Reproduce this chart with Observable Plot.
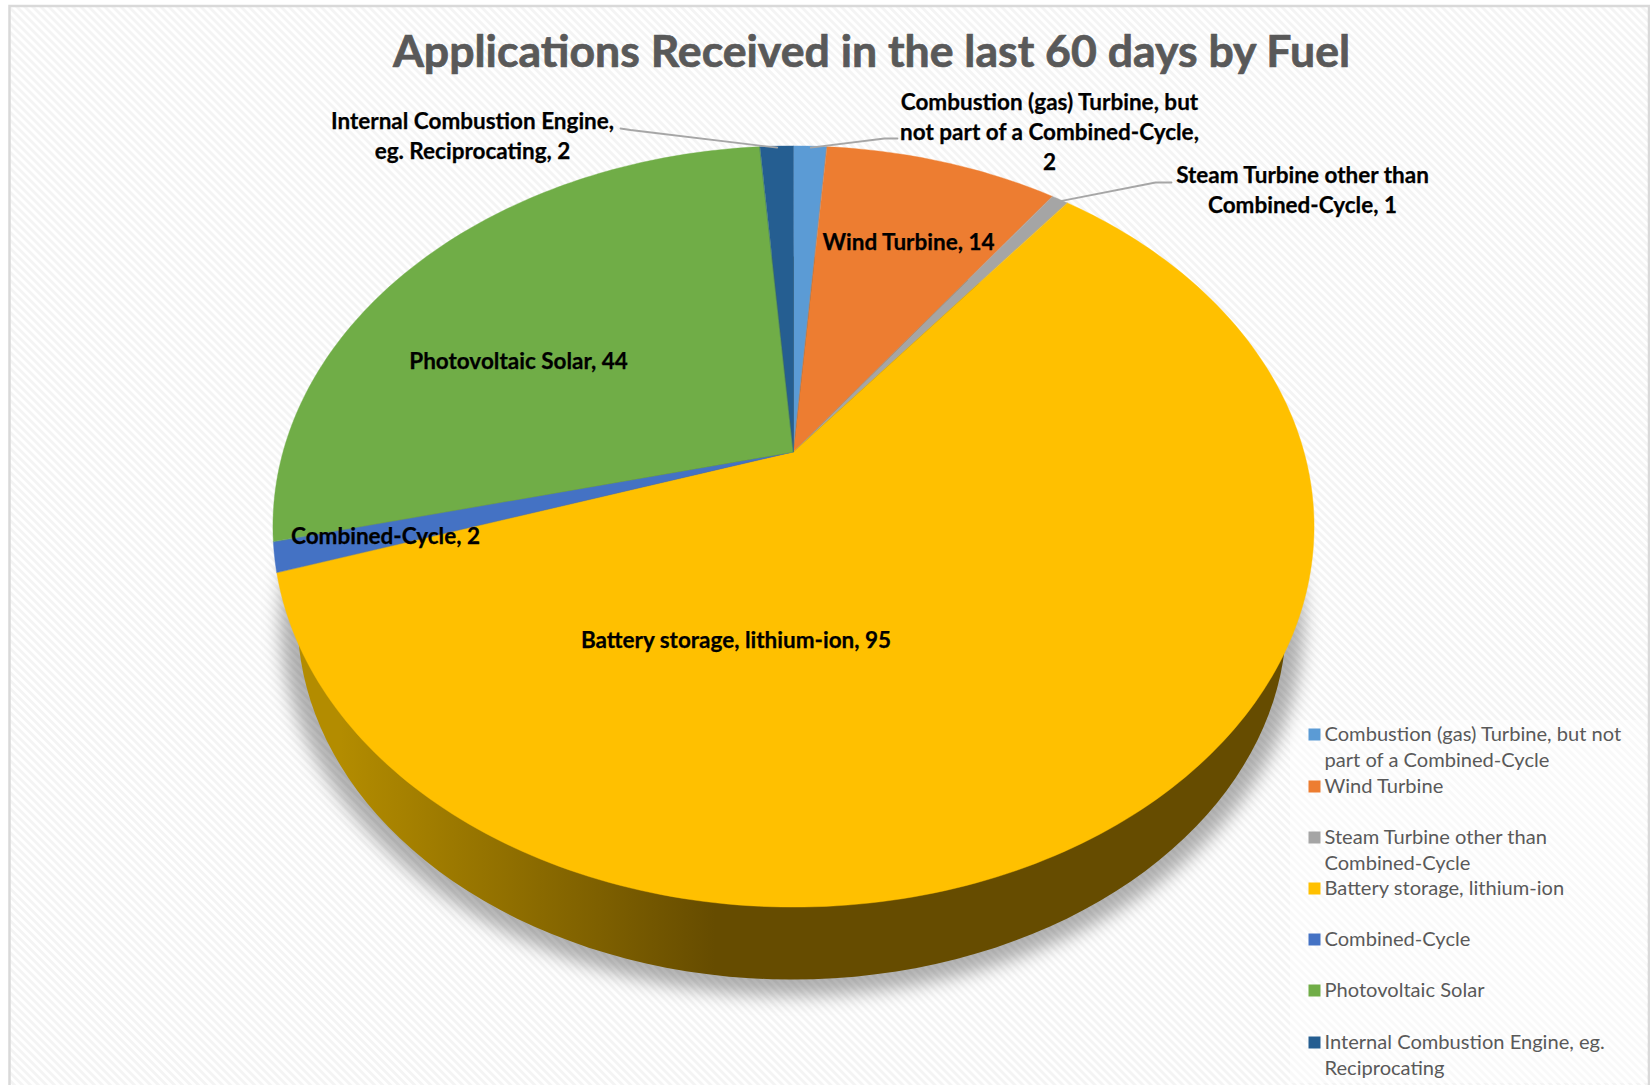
<!DOCTYPE html>
<html><head><meta charset="utf-8">
<script src="https://cdn.jsdelivr.net/npm/d3@7"></script>
<script src="https://cdn.jsdelivr.net/npm/@observablehq/plot@0.6"></script>
<style>html,body{margin:0;padding:0;background:#fff}svg{display:block}</style>
</head><body><div id="chart"></div>
<script>
const chartTitle = "Applications Received in the last 60 days by Fuel";
const fuels = ["Combustion (gas) Turbine, but not part of a Combined-Cycle","Wind Turbine","Steam Turbine other than Combined-Cycle","Battery storage, lithium-ion","Combined-Cycle","Photovoltaic Solar","Internal Combustion Engine, eg. Reciprocating"];
const counts = [2,14,1,95,2,44,2];
const palette = ["#5b9bd5","#ed7d31","#a5a5a5","#ffc000","#4472c4","#70ad47","#255e91"];
const legendLines = ["Combustion (gas) Turbine, but not\npart of a Combined-Cycle","Wind Turbine","Steam Turbine other than\nCombined-Cycle","Battery storage, lithium-ion","Combined-Cycle","Photovoltaic Solar","Internal Combustion Engine, eg.\nReciprocating"];
const labelLines = ["Combustion (gas) Turbine, but\nnot part of a Combined-Cycle,\n2","Wind Turbine, 14","Steam Turbine other than\nCombined-Cycle, 1","Battery storage, lithium-ion, 95","Combined-Cycle, 2","Photovoltaic Solar, 44","Internal Combustion Engine,\neg. Reciprocating, 2"];

// layout
const W=1650,H=1085;
const cx=793.5,apexY=452,persp=0.1958,ax=510.5,by=366,midY=526.5;
const labelAt=[[1049,88.5],[908,228.5],[1302,161],[735.5,626.5],[385,522],[518,347.5],[472,107.5]];
const legendY=[734,786,837,888,939,990,1042];
const leaderKnots={0:[[897,138],[884,138]],2:[[1171,182],[1155,182]],6:[[620,128],[630,129.5]]};

const rim=a=>{const u=Math.sin(a),v=Math.cos(a),d=1+persp*v;return {x:cx+ax*u/d,y:apexY-by*v/d};};
const base=a=>{const p=rim(a);return {x:cx-1.5+0.95*(p.x-cx),y:618+0.95*(p.y-midY)};};
const pie=d3.pie().sort(null)(counts);
const step=Math.PI/180;
const wedges=pie.flatMap((s,i)=>{
  const n=Math.max(2,Math.ceil((s.endAngle-s.startAngle)/step));
  return d3.range(n+1).map(k=>{const p=rim(s.startAngle+(s.endAngle-s.startAngle)*k/n);return {fuel:fuels[i],x:p.x,y:p.y};});
});
const circle=d3.range(0,361,2).map(t=>t*Math.PI/180);
const wall=circle.map(base);
const shadow=circle.map(a=>{const p=base(a);return {x:cx+1.035*(p.x-cx),y:622+1.035*(p.y-618)};});
const leaders=Object.entries(leaderKnots).flatMap(([i,k])=>{
  const s=pie[+i],e=rim((s.startAngle+s.endAngle)/2);
  return [...k,[e.x,e.y+1]].map(([x,y])=>({i,x,y}));
});
const legend=fuels.map((f,i)=>({fuel:f,text:legendLines[i],y:legendY[i]}));
const labels=fuels.map((f,i)=>({text:labelLines[i],x:labelAt[i][0],y:labelAt[i][1]}));

const defs=()=>{
  const g=d3.create("svg:defs");
  g.html(`<pattern id="hatch" width="5.66" height="5.66" patternUnits="userSpaceOnUse" patternTransform="rotate(-45)"><rect width="5.66" height="5.66" fill="#fff"/><rect width="2.83" height="5.66" fill="#f4f4f4"/></pattern>
  <linearGradient id="wallFill" gradientUnits="userSpaceOnUse" x1="340" x2="715" y1="0" y2="0"><stop offset="0" stop-color="#b38c00"/><stop offset="1" stop-color="#664c00"/></linearGradient>
  <filter id="soft" x="-10%" y="-10%" width="120%" height="120%"><feGaussianBlur stdDeviation="9"/></filter>`);
  return g.node();
};
const blurred=(index,scales,values,dims,ctx,next)=>{const g=next(index,scales,values,dims,ctx);g.setAttribute("filter","url(#soft)");return g;};
const lato="Lato, 'Open Sans', sans-serif";

const plot=Plot.plot({
  width:W,height:H,margin:0,
  style:{background:"#fff"},
  x:{domain:[0,W],range:[0,W],axis:null},
  y:{domain:[0,H],range:[0,H],axis:null},
  color:{domain:fuels,range:palette},
  marks:[
    defs,
    Plot.rect([{}],{x1:()=>9.5,x2:()=>1649,y1:()=>6,y2:()=>H+4,fill:"url(#hatch)",stroke:"#d9d9d9",strokeWidth:2.5}),
    Plot.rect([{}],{x1:()=>1290,x2:()=>1647,y1:()=>720,y2:()=>1083,fill:"#fff",fillOpacity:0.45}),
    Plot.area(shadow,{x1:()=>cx,y1:()=>622,x2:"x",y2:"y",fill:"#000",fillOpacity:0.3,render:blurred}),
    Plot.area(wall,{x1:()=>cx,y1:()=>618,x2:"x",y2:"y",fill:"url(#wallFill)"}),
    Plot.area(wedges,{x1:()=>cx,y1:()=>apexY,x2:"x",y2:"y",z:"fuel",fill:"fuel",stroke:"fuel",strokeWidth:0.4}),
    Plot.line(leaders,{x:"x",y:"y",z:"i",stroke:"#a6a6a6",strokeWidth:1.8}),
    Plot.text([chartTitle],{x:()=>871,y:()=>52,text:d=>d,fontFamily:lato,fontWeight:700,fontSize:44.6,fill:"#595959",stroke:"#595959",strokeWidth:0.7}),
    Plot.text(labels,{x:"x",y:"y",text:"text",lineAnchor:"top",lineHeight:1.33,fontFamily:lato,fontWeight:700,fontSize:22.5,fill:"#000",stroke:"#000",strokeWidth:0.25}),
    Plot.dot(legend,{x:()=>1314,y:"y",symbol:"square",r:6.77,fill:"fuel"}),
    Plot.text(legend,{x:()=>1324,y:d=>d.y-12,text:"text",textAnchor:"start",lineAnchor:"top",lineHeight:1.29,fontFamily:lato,fontSize:20.1,fill:"#595959"})
  ]
});
document.getElementById("chart").append(plot);
</script></body></html>
